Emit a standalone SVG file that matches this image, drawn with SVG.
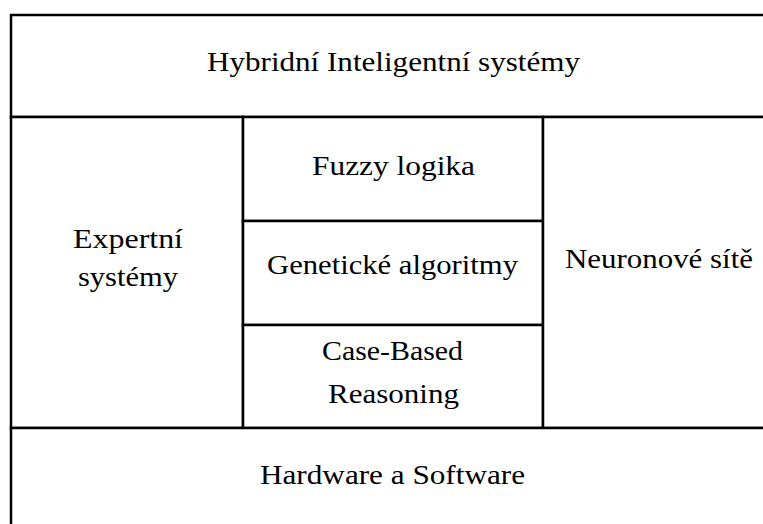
<svg xmlns="http://www.w3.org/2000/svg" width="763" height="524" viewBox="0 0 763 524">
  <style>
    .cell { fill: #ffffff; stroke: #000000; stroke-width: 2.5; }
    .lbl { font-family: "Liberation Serif", "Times New Roman", serif; font-size: 27px; fill: #000000; text-anchor: middle; }
  </style>
  <rect x="0" y="0" width="763" height="524" fill="#ffffff"/>

  <!-- layered architecture: each block is a cell of the stack -->
  <g id="hybrid">
    <rect class="cell" x="11" y="15" width="766" height="102"/>
    <text class="lbl" x="393.5" y="71" textLength="373" lengthAdjust="spacingAndGlyphs">Hybridní Inteligentní systémy</text>
  </g>
  <g id="expert">
    <rect class="cell" x="11" y="117" width="232" height="311"/>
    <text class="lbl" x="128" y="248" textLength="110" lengthAdjust="spacingAndGlyphs">Expertní</text>
    <text class="lbl" x="128" y="286" textLength="100" lengthAdjust="spacingAndGlyphs">systémy</text>
  </g>
  <g id="fuzzy">
    <rect class="cell" x="243" y="117" width="300" height="104"/>
    <text class="lbl" x="393.5" y="175" textLength="163" lengthAdjust="spacingAndGlyphs">Fuzzy logika</text>
  </g>
  <g id="genetic">
    <rect class="cell" x="243" y="221" width="300" height="104"/>
    <text class="lbl" x="392.5" y="274" textLength="251" lengthAdjust="spacingAndGlyphs">Genetické algoritmy</text>
  </g>
  <g id="cbr">
    <rect class="cell" x="243" y="325" width="300" height="103"/>
    <text class="lbl" x="392.5" y="360" textLength="141" lengthAdjust="spacingAndGlyphs">Case-Based</text>
    <text class="lbl" x="393.5" y="403" textLength="131" lengthAdjust="spacingAndGlyphs">Reasoning</text>
  </g>
  <g id="neural">
    <rect class="cell" x="543" y="117" width="234" height="311"/>
    <text class="lbl" x="659" y="268" textLength="188" lengthAdjust="spacingAndGlyphs">Neuronové sítě</text>
  </g>
  <g id="hardware">
    <rect class="cell" x="11" y="428" width="766" height="120"/>
    <text class="lbl" x="392.5" y="484" textLength="265" lengthAdjust="spacingAndGlyphs">Hardware a Software</text>
  </g>
  <g id="connectors"></g>
</svg>
